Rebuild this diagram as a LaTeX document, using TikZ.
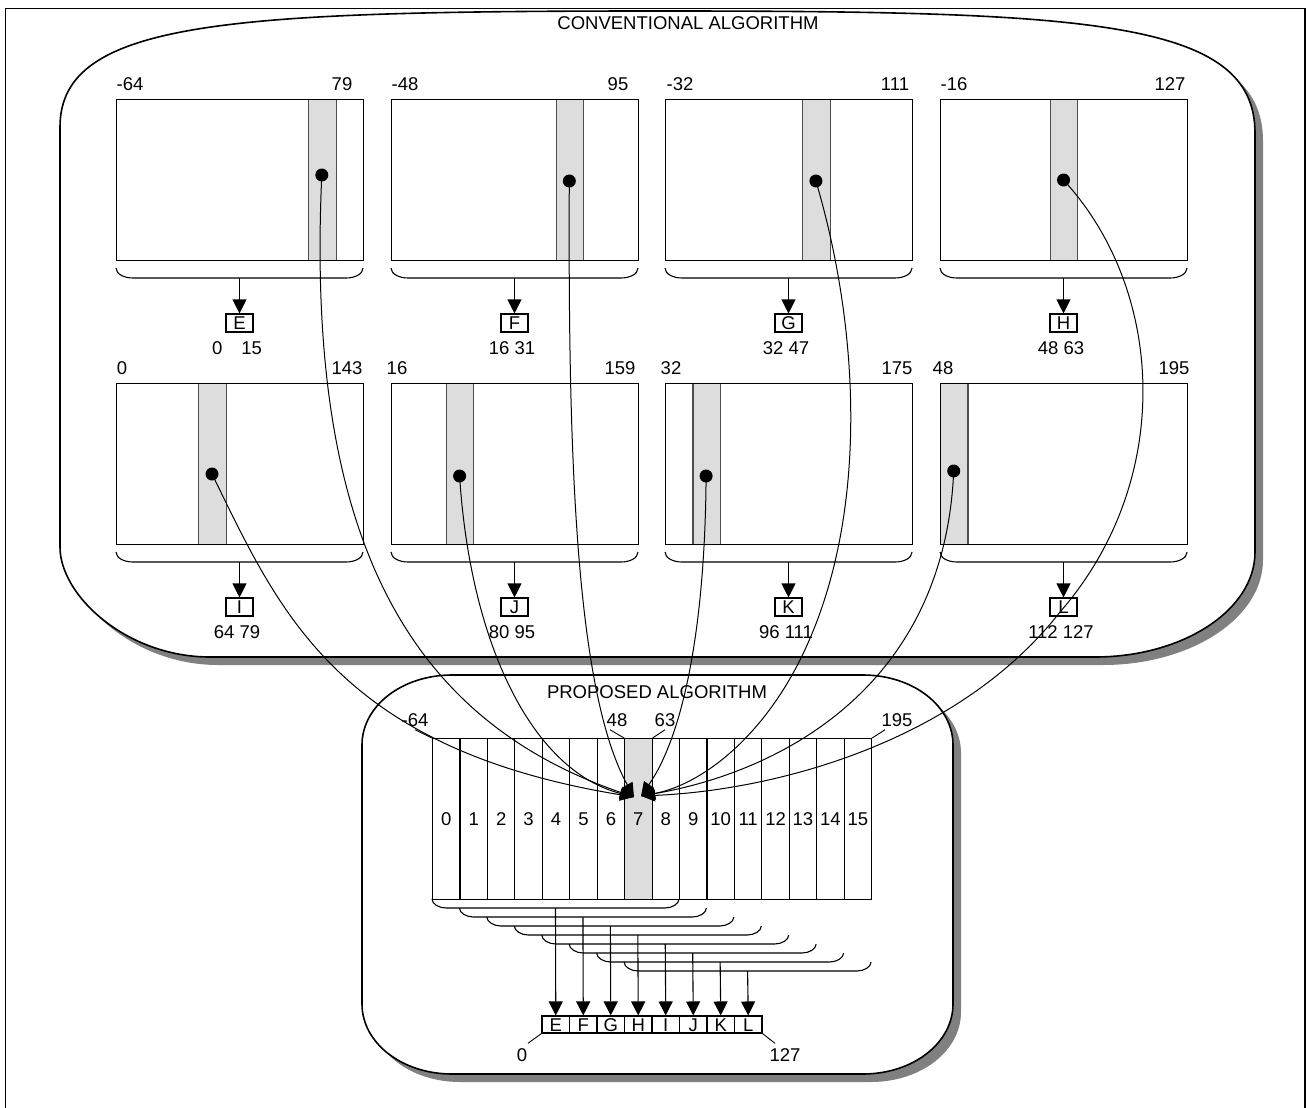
\documentclass[tikz,border=0pt]{standalone}
\usepackage{fontspec}
\setmainfont{Liberation Sans}
\usetikzlibrary{arrows.meta,calc}
\definecolor{lgray}{HTML}{DDDDDD}
\definecolor{sgray}{HTML}{808080}
\newcommand\fs{\fontsize{18.5}{22}\selectfont}
\begin{document}
\begin{tikzpicture}[x=1pt,y=-1pt,
  lbl/.style={inner sep=0pt,font=\fs},
  panel/.style={draw,line width=1.3pt,minimum width=247pt,minimum height=161pt,inner sep=0pt,anchor=north west},
  strip/.style={draw=black!70,fill=lgray,line width=1.1pt,minimum width=27.4pt,minimum height=161pt,inner sep=0pt,anchor=north west},
  dotn/.style={circle,fill=black,inner sep=0pt,minimum size=13pt},
  lbox/.style={draw,line width=1.1pt,minimum width=27pt,minimum height=18pt,inner sep=0pt,font=\fs,text height=13.2pt,text depth=0pt},
  sbox/.style={draw,line width=1.1pt,minimum width=27.5pt,minimum height=17pt,inner sep=0pt,font=\fs,text height=13.2pt,text depth=0pt},
  col/.style={draw,line width=1.1pt,minimum width=27.44pt,minimum height=161pt,inner sep=0pt,anchor=north west,font=\fs},
  brk/.style={line width=1.1pt},
  arr/.style={line width=1.1pt,-{Triangle[length=14pt,width=14pt]}},
  curve/.style={line width=1pt,-{Triangle[length=14pt,width=12pt]}},
  blob/.style={line width=1.6pt,draw=black,fill=white},
  shadow/.style={fill=sgray,draw=none},
  leader/.style={line width=0.9pt},
]
\useasboundingbox (0,0) rectangle (1307,1108);
\clip (0,0) rectangle (1307,1108);
\fill[white] (0,0) rectangle (1307,1108);
\draw[line width=1.5pt] (5.5,8.5) rectangle (1305,1140);

% ---------- conventional algorithm blob ----------
\begin{scope}[shift={(8,8)}]
\fill[shadow] (60,127) .. controls (60,20) and (230,11) .. (660,11) .. controls (1090,11) and (1255,20) .. (1255,133) -- (1255,552) .. controls (1255,610) and (1183,657) .. (1095,657) -- (210,657) .. controls (127,657) and (60,596) .. (60,547) -- cycle;
\end{scope}
\path[blob] (60,127) .. controls (60,20) and (230,11) .. (660,11) .. controls (1090,11) and (1255,20) .. (1255,133) -- (1255,552) .. controls (1255,610) and (1183,657) .. (1095,657) -- (210,657) .. controls (127,657) and (60,596) .. (60,547) -- cycle;
\node[lbl] (t1) at (688,23) {CONVENTIONAL ALGORITHM};

\foreach \nm/\px/\py/\so/\dy/\ll/\llx/\rl/\rlx/\rng in {
E/116/99/192.1/175/-64/130/79/342/{0\hspace{19pt}15},
F/391/99/164.6/181/-48/405/95/618/{16 31},
G/665/99/137.2/181/-32/680/111/895/{32 47},
H/940/99/109.8/180/-16/954/127/1170/{48 63},
I/116/383/82.3/474/0/122/143/347/{64 79},
J/391/383/54.9/476/16/397/159/620/{80 95},
K/665/383/27.4/476/32/671/175/897/{96 111},
L/940/383/0/471/48/943/195/1174/{112 127}}{
  \node[strip] (s\nm) at ({\px+\so},\py) {};
  \node[panel] (p\nm) at (\px,\py) {};
  \node[dotn] (d\nm) at ({\px+\so+13.7},\dy) {};
  \node[lbl] (ll\nm) at (\llx,{\py-15}) {\ll};
  \node[lbl] (rl\nm) at (\rlx,{\py-15}) {\rl};
  \draw[brk] (\px,{\py+169}) .. controls (\px,{\py+175}) and ({\px+8},{\py+179}) .. ({\px+17},{\py+179}) -- ({\px+230},{\py+179}) .. controls ({\px+239},{\py+179}) and ({\px+247},{\py+175}) .. ({\px+247},{\py+169});
  \coordinate (bc\nm) at ({\px+123.5},{\py+179});
  \node[lbox] (b\nm) at ({\px+123.5},{\py+224}) {\nm};
  \draw[arr] (bc\nm) -- (b\nm.north);
  \node[lbl] (r\nm) at ({\px+121},{\py+249}) {\rng};
}

% ---------- proposed algorithm blob ----------
\begin{scope}[shift={(8,8)}]
\fill[shadow] (362,745) .. controls (362,706) and (402,675) .. (452,675) -- (863,675) .. controls (913,675) and (953,706) .. (953,745) -- (953,1004) .. controls (953,1043) and (913,1074) .. (863,1074) -- (452,1074) .. controls (402,1074) and (362,1043) .. (362,1004) -- cycle;
\end{scope}
\path[blob] (362,745) .. controls (362,706) and (402,675) .. (452,675) -- (863,675) .. controls (913,675) and (953,706) .. (953,745) -- (953,1004) .. controls (953,1043) and (913,1074) .. (863,1074) -- (452,1074) .. controls (402,1074) and (362,1043) .. (362,1004) -- cycle;
\node[lbl] (t2) at (657,692) {PROPOSED ALGORITHM};

\foreach \k in {0,...,15}{
  \node[col] (c\k) at ({432+27.44*\k},738) {\k};
}
\node[col,fill=lgray] (c7) at ({432+27.44*7},738) {7};

\node[lbl,inner sep=3pt] (lm64) at (415,720) {-64};
\node[lbl,inner sep=3pt] (l48) at (617,720) {48};
\node[lbl,inner sep=3pt] (l63) at (665,720) {63};
\node[lbl,inner sep=3pt] (l195) at (897,720) {195};
\draw[leader] (lm64.south) -- (c0.north west);
\draw[leader] ([xshift=-7pt]l48.south) -- (c7.north west);
\draw[leader] (l63.south) -- (c7.north east);
\draw[leader] ([xshift=-12pt]l195.south) -- (c15.north east);

\foreach \k/\l in {0/E,1/F,2/G,3/H,4/I,5/J,6/K,7/L}{
  \pgfmathsetmacro\xa{432+27.44*\k}
  \pgfmathsetmacro\xb{432+27.44*(\k+9)}
  \pgfmathsetmacro\yt{899+9*\k}
  \draw[brk] (\xa,\yt) .. controls (\xa,{\yt+5}) and ({\xa+7},{\yt+9}) .. ({\xa+14},{\yt+9}) -- ({\xb-14},{\yt+9}) .. controls ({\xb-7},{\yt+9}) and (\xb,{\yt+5}) .. (\xb,\yt);
  \coordinate (pc\k) at ({555.5+27.44*\k},{\yt+9});
  \node[sbox] (sb\k) at ({555.75+27.5*\k},1024.5) {\l};
}
\foreach \k in {0,...,7}{
  \draw[arr] (pc\k) -- (sb\k.north);
}
\node[lbl] (z0) at (522,1055) {0};
\node[lbl] (z127) at (785,1055) {127};
\draw[leader] ([xshift=6pt,yshift=5pt]z0.north) -- (sb0.south west);
\draw[leader] ([xshift=-10pt,yshift=5pt]z127.north) -- (sb7.south east);

% ---------- curves ----------
\coordinate (tl) at (634,797);
\coordinate (tr) at (641,796);
\draw[curve] (dE.center) .. controls (305,540) and (410,720) .. (tl);
\draw[curve] (dI.center) .. controls (278,608) and (335,748) .. (tl);
\draw[curve] (dJ.center) .. controls (470,640) and (530,770) .. (tl);
\draw[curve] (dF.center) .. controls (568,450) and (575,690) .. (tl);
\draw[curve] (dK.center) .. controls (705,640) and (680,740) .. (tr);
\draw[curve] (dG.center) .. controls (860,330) and (870,520) .. (800,660) .. controls (760,740) and (700,785) .. (tr);
\draw[curve] (dL.center) .. controls (945,680) and (790,770) .. (tr);
\draw[curve] (dH.center) .. controls (1165,290) and (1175,480) .. (1060,612) .. controls (960,740) and (780,790) .. (tr);
\end{tikzpicture}
\end{document}
